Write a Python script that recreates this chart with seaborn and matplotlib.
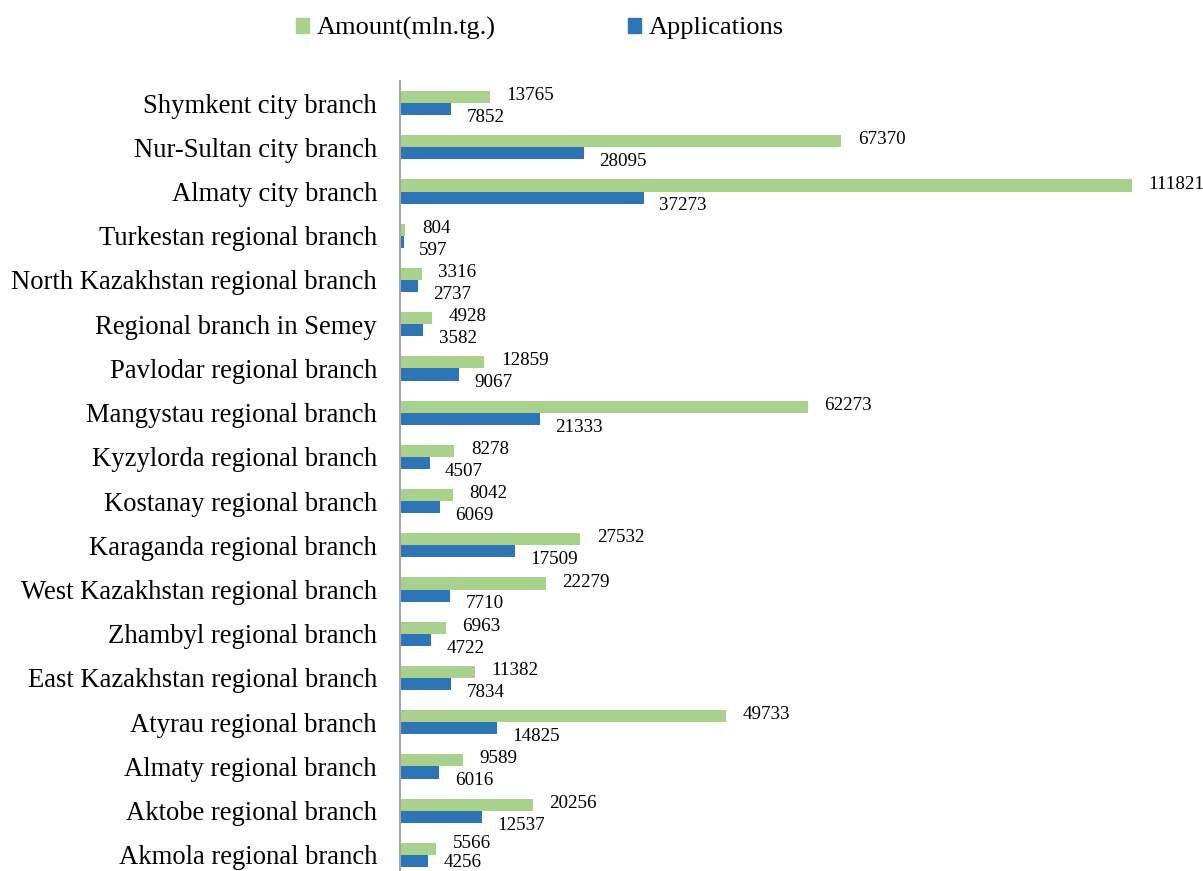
import matplotlib
matplotlib.use("Agg")
import matplotlib.pyplot as plt
import seaborn as sns
import pandas as pd

branches = [
    "Shymkent city branch", "Nur-Sultan city branch", "Almaty city branch",
    "Turkestan regional branch", "North Kazakhstan regional branch",
    "Regional branch in Semey", "Pavlodar regional branch",
    "Mangystau regional branch", "Kyzylorda regional branch",
    "Kostanay regional branch", "Karaganda regional branch",
    "West Kazakhstan regional branch", "Zhambyl regional branch",
    "East Kazakhstan regional branch", "Atyrau regional branch",
    "Almaty regional branch", "Aktobe regional branch", "Akmola regional branch",
]
amount = [13765, 67370, 111821, 804, 3316, 4928, 12859, 62273, 8278,
          8042, 27532, 22279, 6963, 11382, 49733, 9589, 20256, 5566]
applications = [7852, 28095, 37273, 597, 2737, 3582, 9067, 21333, 4507,
                6069, 17509, 7710, 4722, 7834, 14825, 6016, 12537, 4256]
series = ["Amount(mln.tg.)", "Applications"]
colors = ["#A9D18E", "#2E75B6"]

df = pd.DataFrame({
    "branch": branches * 2,
    "value": amount + applications,
    "series": [series[0]] * len(branches) + [series[1]] * len(branches),
})

sns.set_theme(style="white")
plt.rcParams["font.family"] = ["Liberation Serif", "DejaVu Serif"]
plt.rcParams["text.color"] = "black"

fig = plt.figure(figsize=(12.03, 8.71), dpi=100)
ax = fig.add_axes([400 / 1203, 0.0, 1 - 400 / 1203, 1 - 81 / 871])

sns.barplot(data=df, y="branch", x="value", hue="series", hue_order=series,
            order=branches, palette=colors, orient="h", width=0.55,
            saturation=1, linewidth=0, ax=ax, legend=False)

ax.set_xlim(0, 122670)
ax.set_ylim(17.5 - 6 / 44.24, -0.5)
ax.set_xlabel("")
ax.set_ylabel("")
ax.set_xticks([])
ax.tick_params(axis="y", length=0, pad=16.5, labelsize=19.2, labelcolor="black")
for s in ["top", "right", "bottom"]:
    ax.spines[s].set_visible(False)
ax.spines["left"].set_color("#A6A6A6")
ax.spines["left"].set_linewidth(1.5)

n = len(branches)
for k, cont in enumerate(ax.containers):
    for i, bar in enumerate(cont):
        w = bar.get_width()
        yc = bar.get_y() + bar.get_height() / 2
        last = i == n - 1
        if k == 0:
            dx, dy = 12, (4 if last else 1)
        else:
            dx, dy = 11, (-1 if last else -6)
        ax.annotate(f"{int(round(w))}", xy=(w, yc), xytext=(dx, dy),
                    textcoords="offset points", ha="left", va="center",
                    fontsize=13.7, color="black", annotation_clip=False)

handles = [plt.Rectangle((0, 0), 1, 1, color=c) for c in colors]
fig.legend(handles, series, loc="upper center", bbox_to_anchor=(0.449, 1.008),
           ncol=2, frameon=False, fontsize=19, handlelength=0.5,
           handleheight=0.5, handletextpad=0.3, columnspacing=5.0,
           labelcolor="black")

fig.savefig("out.png", dpi=100)
